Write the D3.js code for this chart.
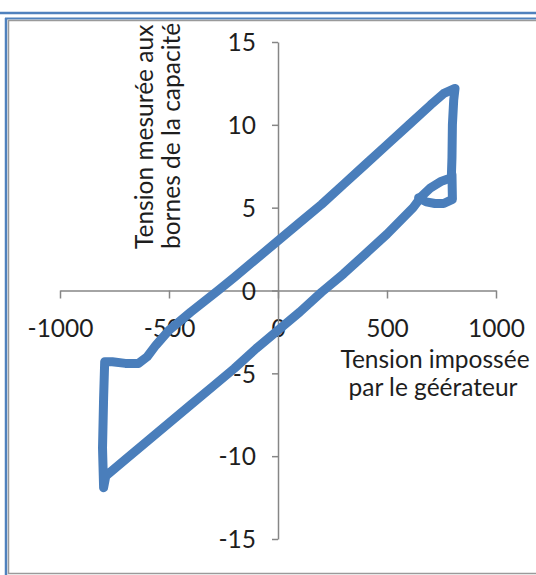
<!DOCTYPE html>
<html>
<head>
<meta charset="utf-8">
<script src="https://cdnjs.cloudflare.com/ajax/libs/d3/7.8.5/d3.min.js"></script>
<style>
  body { margin: 0; background: #fff; }
  svg { display: block; }
</style>
</head>
<body>
<div id="chart"></div>
<script>
// tick values
const xTicks = [-1000, -500, 0, 500, 1000];
const yTicks = [-15, -10, -5, 0, 5, 10, 15];

// cycle, lower branch (increasing voltage) up to the little eye
const lowerV = [-800, -790, -700, -600, -500, -400, -300, -200, -100, 0, 100, 200, 300, 400, 500, 560, 620, 660, 700, 750, 795];
const lowerU = [-11.9, -11.2, -10.2, -9.1, -8.0, -6.9, -5.8, -4.7, -3.5, -2.4, -1.3, -0.1, 1.0, 2.2, 3.4, 4.2, 5.0, 5.7, 6.2, 6.6, 6.8];
// right jump, then upper branch (decreasing voltage), then left jump
const upperV = [798, 800, 806, 812, 761, 700, 600, 500, 400, 300, 200, 100, 0, -100, -200, -275, -400, -500, -560, -600, -640, -700, -760, -795, -800, -805, -800];
const upperU = [8.0, 10.0, 11.5, 12.2, 11.9, 11.2, 10.0, 8.8, 7.6, 6.4, 5.2, 4.1, 3.0, 1.9, 0.8, 0.0, -1.3, -2.4, -3.3, -4.0, -4.4, -4.4, -4.3, -4.3, -6.5, -9.5, -11.9];
// small return arc at the top right
const eyeV = [798, 800, 760, 720, 680, 645];
const eyeU = [7.0, 5.5, 5.25, 5.25, 5.35, 5.6];

const W = 536, H = 575;
const svg = d3.select("#chart").append("svg")
  .attr("width", W)
  .attr("height", H);

// frame
svg.append("line").attr("x1", 0).attr("x2", W).attr("y1", 13).attr("y2", 13)
  .style("stroke", "#4f81bd").style("stroke-width", 2.5);
svg.append("line").attr("x1", 5).attr("x2", W).attr("y1", 18.5).attr("y2", 18.5)
  .style("stroke", "#4f81bd").style("stroke-width", 2);
svg.append("line").attr("x1", 6).attr("x2", 6).attr("y1", 18).attr("y2", H)
  .style("stroke", "#4f81bd").style("stroke-width", 2.5);
svg.append("rect").attr("x", 8.5).attr("y", 20.5).attr("width", W).attr("height", 553)
  .style("fill", "#fff").style("stroke", "#9a9a9a").style("stroke-width", 1.5);

svg.append("clipPath").attr("id", "inner")
  .append("rect").attr("x", 10).attr("y", 22).attr("width", W).attr("height", 550);

const g = svg.append("g").attr("clip-path", "url(#inner)");

const x = d3.scaleLinear().domain([-1000, 1000]).range([60, 496]);
const y = d3.scaleLinear().domain([-15, 15]).range([539, 42]);

const font = "Lato, 'Open Sans', sans-serif";
const fs = "24.5px";

// axes
const xAxis = g.append("g")
  .attr("transform", "translate(0," + y(0) + ")")
  .call(d3.axisBottom(x).tickValues(xTicks).tickFormat(d => String(d))
    .tickSize(8).tickPadding(21).tickSizeOuter(0));
const yAxis = g.append("g")
  .attr("transform", "translate(" + x(0) + ",0)")
  .call(d3.axisLeft(y).tickValues(yTicks).tickFormat(d => String(d))
    .tickSize(6).tickPadding(16).tickSizeOuter(0));

[xAxis, yAxis].forEach(a => {
  a.select(".domain").style("stroke", "#868686").style("stroke-width", 1.5);
  a.selectAll(".tick line").style("stroke", "#868686").style("stroke-width", 1.5);
  a.selectAll(".tick text")
    .style("font-family", font)
    .style("font-size", fs)
    .style("fill", "#1e1e1e");
});
yAxis.selectAll(".tick text").attr("dy", "0.36em");

// the trace
const line = d3.line().x(d => x(d[0])).y(d => y(d[1]));
const lowerPts = d3.zip(lowerV, lowerU);
const upperPts = d3.zip(upperV, upperU);
const eyePts = d3.zip(eyeV, eyeU);

[lowerPts.concat(upperPts), eyePts].forEach(pts => {
  g.append("path")
    .datum(pts)
    .attr("d", line)
    .style("fill", "none")
    .style("stroke", "#4a7ebb")
    .style("stroke-width", 9)
    .style("stroke-linejoin", "round")
    .style("stroke-linecap", "round");
});

// axis titles
const yTitle = g.append("text")
  .attr("transform", "translate(153,249) rotate(-90)")
  .style("font-family", font)
  .style("font-size", fs)
  .style("fill", "#1e1e1e");
yTitle.append("tspan").attr("x", 0).attr("y", 0).text("Tension mesurée aux");
yTitle.append("tspan").attr("x", 0).attr("y", 27).text("bornes de la capacité");

const xTitle = g.append("text")
  .attr("text-anchor", "middle")
  .style("font-family", font)
  .style("font-size", fs)
  .style("fill", "#1e1e1e");
xTitle.append("tspan").attr("x", 435).attr("y", 368).text("Tension impossée");
xTitle.append("tspan").attr("x", 433).attr("y", 396).text("par le géérateur");
</script>
</body>
</html>
